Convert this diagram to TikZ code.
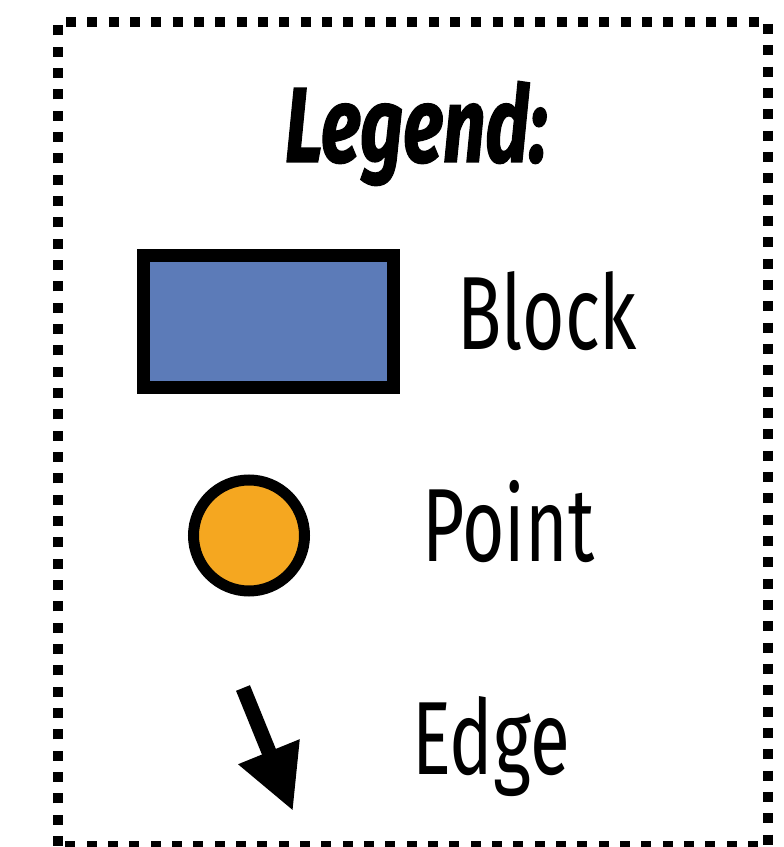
\documentclass[tikz,border=0pt]{standalone}
\usepackage{fontspec}
\usepackage{tikz}
\usetikzlibrary{arrows.meta,positioning}

\newfontfamily\legendfont[FakeStretch=0.70, BoldItalicFeatures={FakeBold=1.2, FakeStretch=0.70}]{Fira Sans}
\definecolor{blockblue}{RGB}{92,123,184}
\definecolor{pointorange}{RGB}{245,167,32}

\begin{document}
\begin{tikzpicture}[
  x=0.75pt, y=0.75pt,
  legendbox/.style={draw, line width=7.5pt, dash pattern=on 7.5pt off 8.5pt},
  blockshape/.style={rectangle, draw, line width=9.75pt, fill=blockblue, minimum width=187.5pt, minimum height=99pt, inner sep=0pt},
  pointshape/.style={circle, draw, line width=8.25pt, fill=pointorange, minimum size=83.25pt, inner sep=0pt},
  edgearrow/.style={-{Triangle[length=48pt, width=46.5pt]}, line width=11.25pt},
  lbl/.style={anchor=base west, inner sep=0pt, font=\legendfont\fontsize{78pt}{80pt}\selectfont}
]
\useasboundingbox (0,0) rectangle (784,847);

% Frame
\coordinate (fsw) at (58,1);
\coordinate (fne) at (768,825);
\draw[legendbox] (fsw) rectangle (fne);

% Title
\node[anchor=base, inner sep=0pt, font=\legendfont\bfseries\itshape\fontsize{80pt}{82pt}\selectfont] (title) at (416,685) {Legend:};

% Symbols
\node[blockshape] (blk) at (268.5,525.5) {};
\node[pointshape] (pnt) at (249,311.5) {};
\coordinate (edgefrom) at (243,159);
\coordinate (edgeto) at (293,36);
\draw[edgearrow] (edgefrom) -- (edgeto);

% Labels
\node[lbl] (blklbl) at (457,497) {Block};
\node[lbl] (pntlbl) at (422,285) {Point};
\node[lbl] (edgelbl) at (412,72) {Edge};

\end{tikzpicture}
\end{document}
